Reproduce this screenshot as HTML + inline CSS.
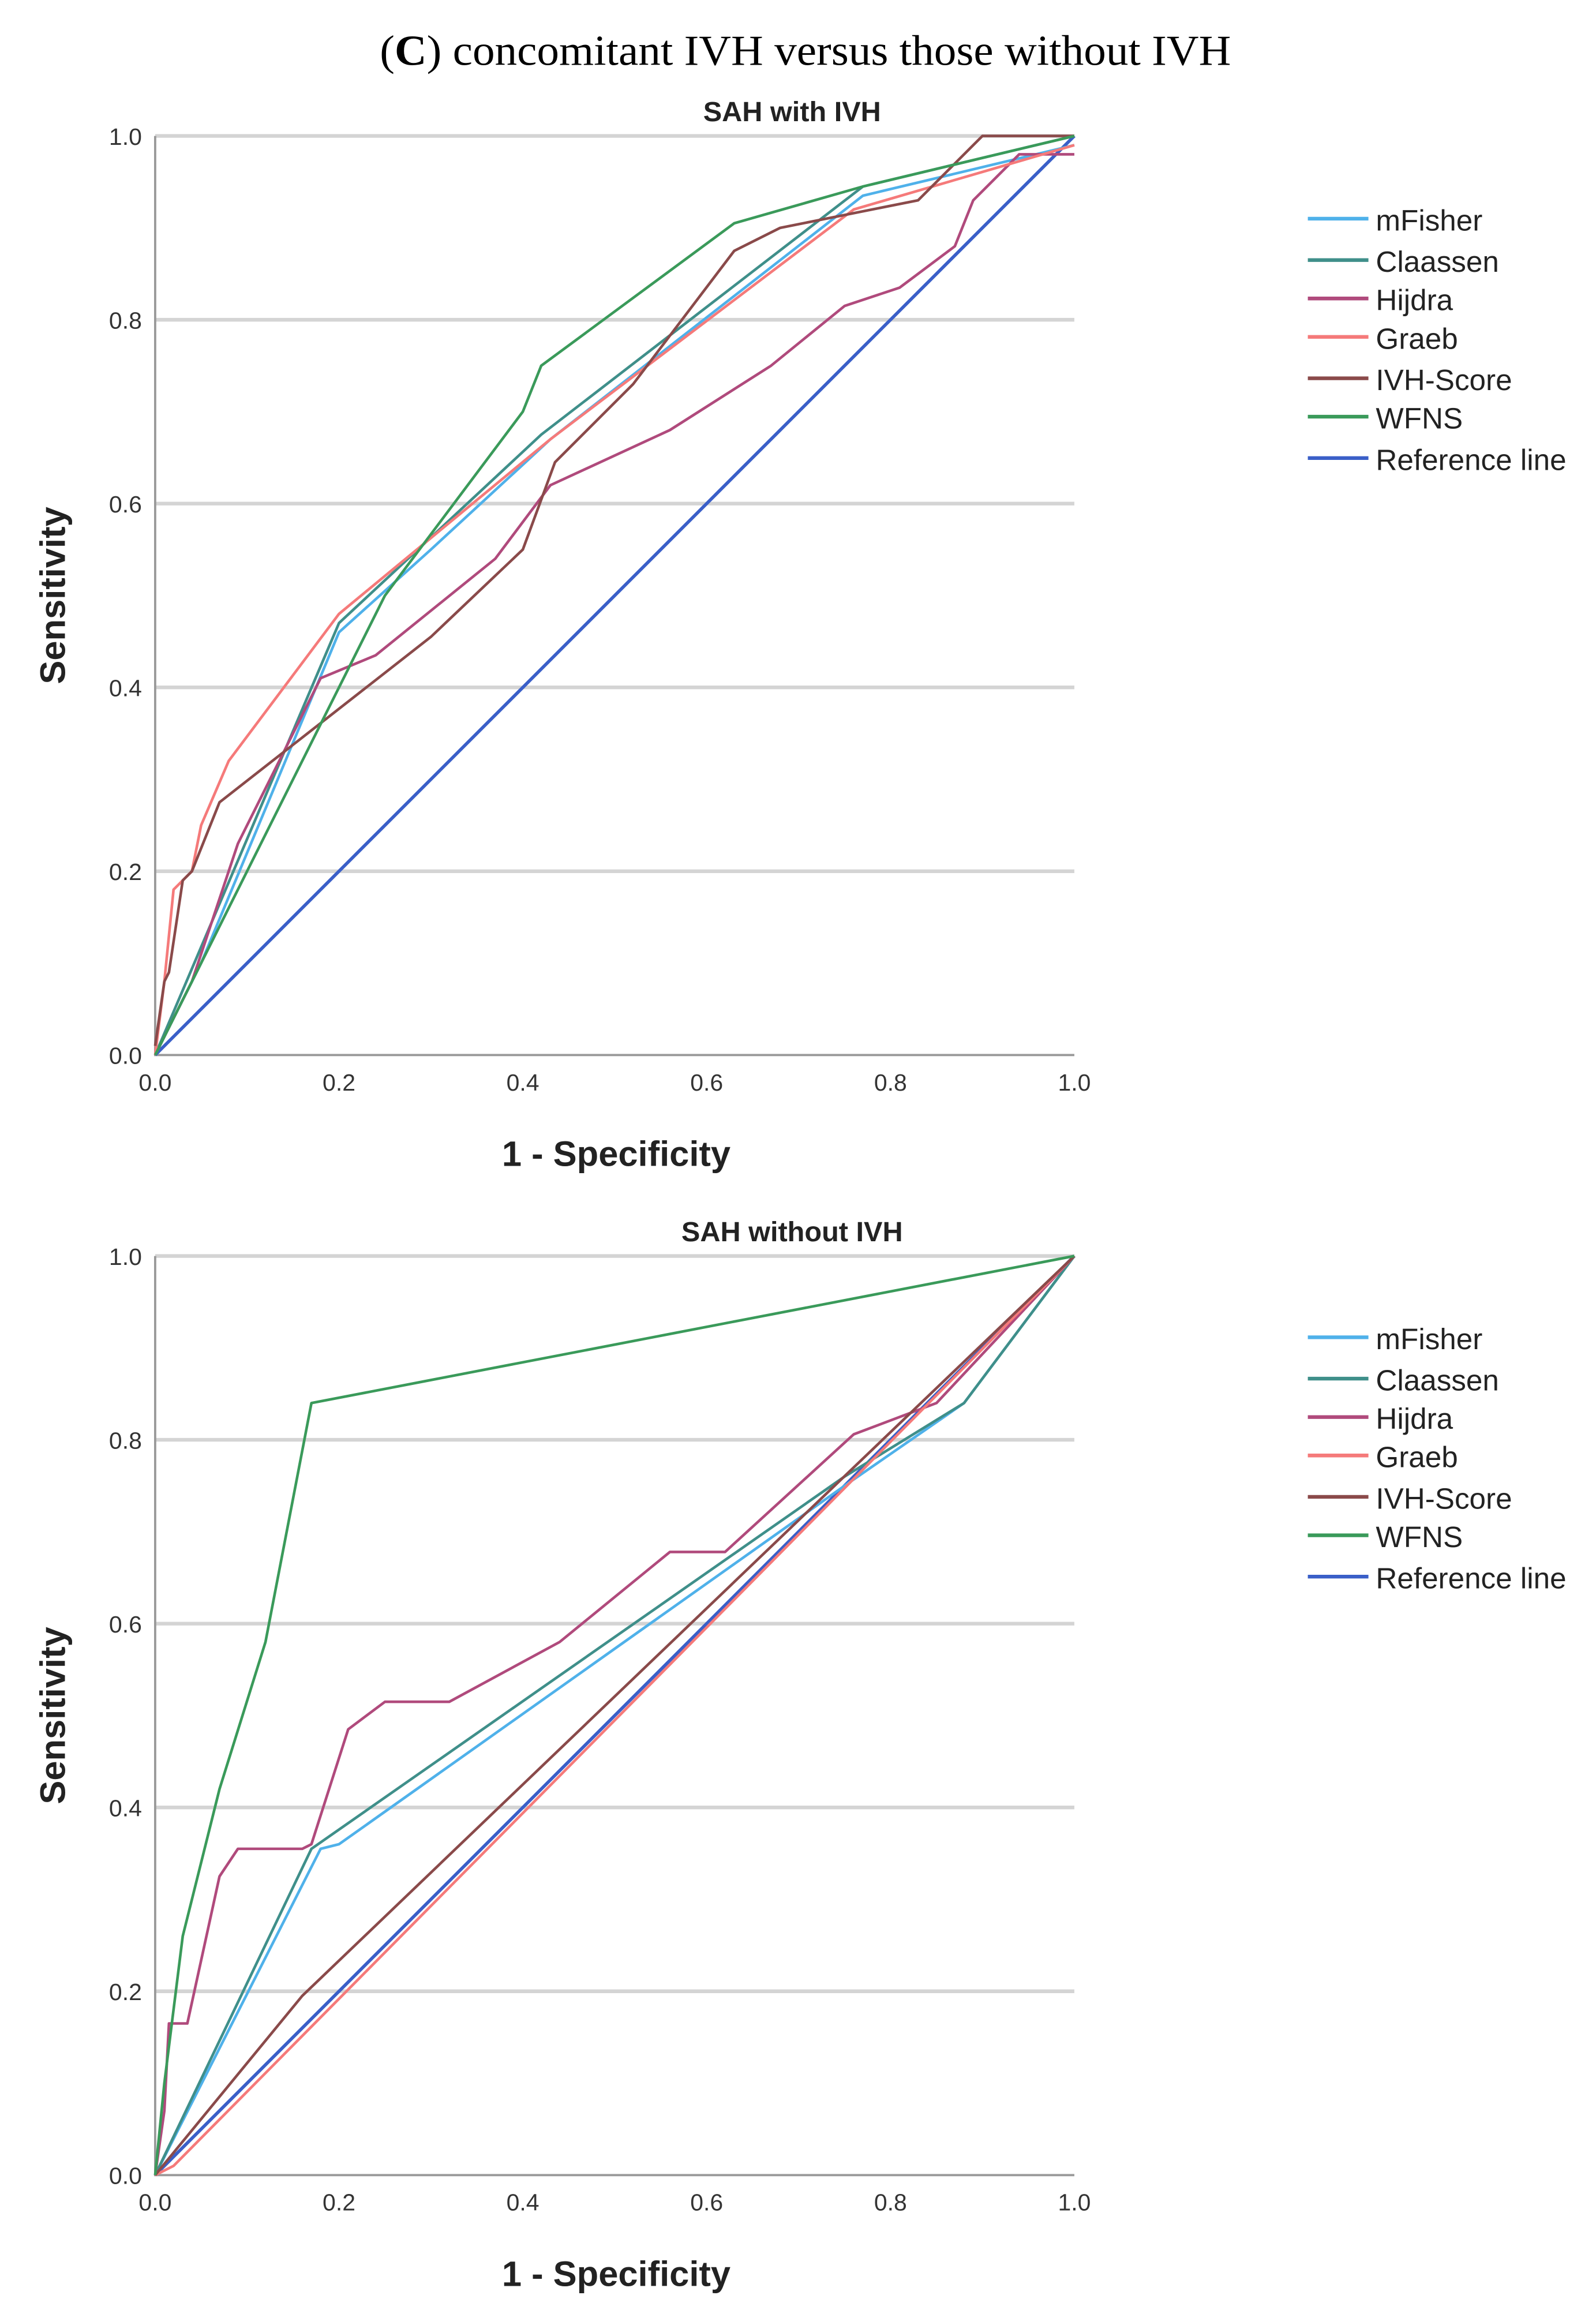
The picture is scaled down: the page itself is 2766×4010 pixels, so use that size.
<!DOCTYPE html>
<html><head><meta charset="utf-8"><style>
html,body{margin:0;padding:0;background:#fff}
svg{display:block}
</style></head><body>
<svg id="chart" width="2766" height="4010" viewBox="0 0 1080 1566" preserveAspectRatio="none" xmlns="http://www.w3.org/2000/svg">
<text x="545" y="44" text-anchor="middle" font-family="Liberation Serif, serif" font-size="29" textLength="576" lengthAdjust="spacingAndGlyphs">(<tspan font-weight="bold">C</tspan>) concomitant IVH versus those without IVH</text>
<g id="top"></g>
<g id="bottom"></g>
</svg>
<script>
const seriesNames=["mFisher","Claassen","Hijdra","Graeb","IVH-Score","WFNS","Reference line"];
const seriesColors=["#4fb1ea","#3f8f8a","#b04a7c","#f57a7a","#8a4a4a","#3a9a5a","#3a5fc8"];
const ticks=[0,0.2,0.4,0.6,0.8,1.0];
const tickLabels=["0.0","0.2","0.4","0.6","0.8","1.0"];
const topTitle="SAH with IVH";
const bottomTitle="SAH without IVH";
const topMFisherX=[0,0.05,0.2,0.3,0.43,0.77,1];
const topMFisherY=[0,0.1,0.46,0.55,0.67,0.935,0.99];
const topClaassenX=[0,0.2,0.42,0.77,1];
const topClaassenY=[0,0.47,0.675,0.945,1];
const topHijdraX=[0,0.04,0.09,0.18,0.24,0.37,0.43,0.56,0.67,0.75,0.81,0.87,0.89,0.94,1];
const topHijdraY=[0,0.08,0.23,0.41,0.435,0.54,0.62,0.68,0.75,0.815,0.835,0.88,0.93,0.98,0.98];
const topGraebX=[0,0.01,0.02,0.04,0.05,0.08,0.2,0.43,0.76,1];
const topGraebY=[0,0.08,0.18,0.2,0.25,0.32,0.48,0.67,0.92,0.99];
const topIVHX=[0,0.01,0.015,0.03,0.04,0.07,0.3,0.4,0.435,0.52,0.63,0.68,0.83,0.9,1];
const topIVHY=[0.01,0.08,0.09,0.19,0.2,0.275,0.455,0.55,0.645,0.73,0.875,0.9,0.93,1,1];
const topWFNSX=[0,0.25,0.4,0.42,0.63,0.77,1];
const topWFNSY=[0,0.5,0.7,0.75,0.905,0.945,1];
const refX=[0,1];
const refY=[0,1];
const botMFisherX=[0,0.18,0.2,0.75,0.88,1];
const botMFisherY=[0,0.355,0.36,0.75,0.84,1];
const botClaassenX=[0,0.17,0.75,0.88,1];
const botClaassenY=[0,0.355,0.76,0.84,1];
const botHijdraX=[0,0.01,0.015,0.035,0.07,0.09,0.16,0.17,0.21,0.25,0.32,0.44,0.56,0.62,0.76,0.85,1];
const botHijdraY=[0,0.07,0.165,0.165,0.325,0.355,0.355,0.36,0.485,0.515,0.515,0.58,0.678,0.678,0.806,0.84,1];
const botGraebX=[0,0.02,1];
const botGraebY=[0,0.01,1];
const botIVHX=[0,0.16,1];
const botIVHY=[0,0.195,1];
const botWFNSX=[0,0.01,0.03,0.07,0.12,0.17,1];
const botWFNSY=[0,0.1,0.26,0.42,0.58,0.84,1];

const NS="http://www.w3.org/2000/svg";
function mk(tag,attrs,parent){const e=document.createElementNS(NS,tag);for(const k in attrs)e.setAttribute(k,attrs[k]);parent.appendChild(e);return e;}

function drawChart(g,y0,title,data,legendY){
  const X0=105,W=622,H=622;
  const sx=v=>X0+W*v, sy=v=>y0-H*v;
  const t=mk('text',{x:536,y:y0-H-10,'text-anchor':'middle','font-family':'Liberation Sans, sans-serif','font-size':19,'font-weight':'bold',fill:'#222'},g);
  t.textContent=title;
  
  
  ticks.forEach((v,i)=>{
    if(v>0){const gl=mk('line',{x1:sx(0),x2:sx(1),y1:sy(v),y2:sy(v),stroke:'#d4d4d4','stroke-width':2.5},g);
      
      }
    const yl=mk('text',{x:96,y:sy(v)+6,'text-anchor':'end','font-family':'Liberation Sans, sans-serif','font-size':16,fill:'#333'},g);
    yl.textContent=tickLabels[i];
    
    
    const xl=mk('text',{x:sx(v),y:y0+24,'text-anchor':'middle','font-family':'Liberation Sans, sans-serif','font-size':16,fill:'#333'},g);
    xl.textContent=tickLabels[i];
    
    
  });
  const ax=mk('path',{d:`M${sx(0)} ${sy(1)}V${y0}H${sx(1)}`,fill:'none',stroke:'#999','stroke-width':1.5},g);
  
  
  const xt=mk('text',{x:417,y:y0+75,'text-anchor':'middle','font-family':'Liberation Sans, sans-serif','font-size':24,'font-weight':'bold',fill:'#222'},g);
  xt.textContent='1 - Specificity';
  
  
  const yt=mk('text',{x:0,y:0,transform:`translate(44 ${y0-311}) rotate(-90)`,'text-anchor':'middle','font-family':'Liberation Sans, sans-serif','font-size':24,'font-weight':'bold',fill:'#222'},g);
  yt.textContent='Sensitivity';
  
  
  const order=[6,0,1,2,3,4,5];
  order.forEach(i=>{
    const xs=data[i][0],ys=data[i][1];
    const pts=xs.map((x,j)=>sx(x).toFixed(2)+','+sy(ys[j]).toFixed(2)).join(' ');
    const pl=mk('polyline',{points:pts,fill:'none',stroke:seriesColors[i],'stroke-width':i===6?2.2:1.8,'stroke-linejoin':'round'},g);
    
    
  });
  const offs=[0,28,54,80,108,134,162];
  seriesNames.forEach((n,i)=>{
    const ly=legendY+offs[i];
    const ll=mk('line',{x1:885,x2:926,y1:ly,y2:ly,stroke:seriesColors[i],'stroke-width':2.5},g);
    
    
    const lt=mk('text',{x:931,y:ly+8,'font-family':'Liberation Sans, sans-serif','font-size':20,fill:'#222'},g);
    lt.textContent=n;
    
    
  });
}
drawChart(document.getElementById('top'),714,topTitle,[
 [topMFisherX,topMFisherY],[topClaassenX,topClaassenY],[topHijdraX,topHijdraY],[topGraebX,topGraebY],[topIVHX,topIVHY],[topWFNSX,topWFNSY],[refX,refY]],148);
drawChart(document.getElementById('bottom'),1472,bottomTitle,[
 [botMFisherX,botMFisherY],[botClaassenX,botClaassenY],[botHijdraX,botHijdraY],[botGraebX,botGraebY],[botIVHX,botIVHY],[botWFNSX,botWFNSY],[refX,refY]],905);
</script>
</body></html>
